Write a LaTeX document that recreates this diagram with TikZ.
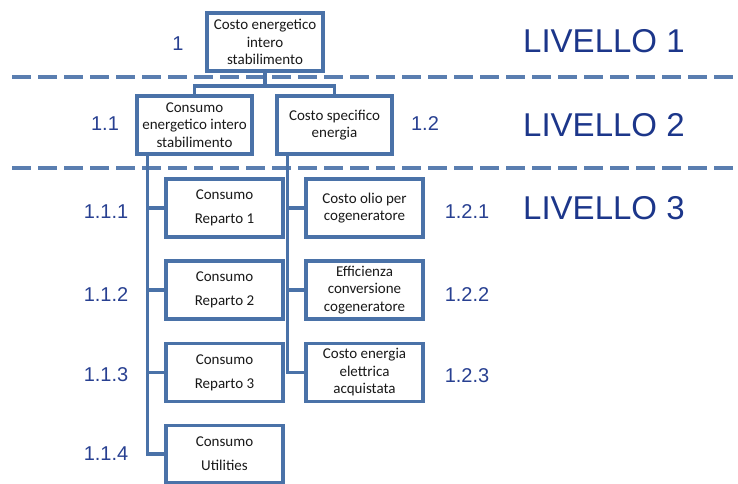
\documentclass[tikz,border=0pt]{standalone}
\usepackage{fontspec}
\setmainfont{Carlito}
\newfontfamily\arialfont{Liberation Sans}
\definecolor{boxblue}{RGB}{74,114,168}
\definecolor{dashblue}{RGB}{90,126,176}
\definecolor{navy}{RGB}{28,54,138}
\definecolor{numblue}{RGB}{40,64,145}
\definecolor{boxtext}{RGB}{25,25,25}
\tikzset{
  box/.style={draw=boxblue, line width=3.2pt, fill=white, align=center, inner sep=0pt,
    text=boxtext, font=\fontsize{15}{17.5}\selectfont},
  boxA/.style={box, minimum width=116pt, minimum height=58pt},
  boxB/.style={box, minimum width=115pt, minimum height=58pt},
  boxC/.style={box, minimum width=117pt, minimum height=58pt},
  wide/.style={font=\fontsize{15}{24}\selectfont},
  conn/.style={draw=boxblue, line width=3.2pt},
  sep/.style={draw=dashblue, line width=4pt, dash pattern=on 19pt off 7pt},
  num/.style={text=numblue, font=\arialfont\fontsize{20}{22}\selectfont, inner sep=0pt},
  lvl/.style={text=navy, font=\arialfont\fontsize{33}{36}\selectfont, inner sep=0pt, anchor=west}
}
\begin{document}
\begin{tikzpicture}[x=1pt,y=-1pt]
\useasboundingbox (0,0) rectangle (738,483);
% separators
\coordinate (s1a) at (12,77); \coordinate (s1b) at (736,77);
\coordinate (s2a) at (12,168); \coordinate (s2b) at (736,168);
\draw[sep] (s1a) -- (s1b);
\draw[sep] (s2a) -- (s2b);
% level labels
\node[lvl] (L1) at (523,41) {LIVELLO 1};
\node[lvl] (L2) at (523,125) {LIVELLO 2};
\node[lvl] (L3) at (523,208) {LIVELLO 3};
% nodes
\node[boxA] (top) at (265,42) {Costo energetico\\intero\\stabilimento};
\node[boxB] (b11) at (194.5,125) {Consumo\\energetico intero\\stabilimento};
\node[boxB] (b12) at (334.5,125) {Costo specifico\\energia};
\node[boxC, wide] (r1) at (224.5,208) {Consumo\\Reparto 1};
\node[boxC, wide] (r2) at (224.5,290) {Consumo\\Reparto 2};
\node[boxC, wide] (r3) at (224.5,372.5) {Consumo\\Reparto 3};
\node[boxC, wide, minimum height=57pt] (r4) at (224.5,454) {Consumo\\Utilities};
\node[boxC] (c1) at (364.5,208) {Costo olio per\\cogeneratore};
\node[boxC] (c2) at (364.5,290) {Efficienza\\conversione\\cogeneratore};
\node[boxC] (c3) at (364.5,372.5) {Costo energia\\elettrica\\acquistata};
% connectors
\coordinate (fork) at (265,86);
\draw[conn] (top.south) -- (fork);
\draw[conn] (fork) -| (b11.north);
\draw[conn] (fork) -| (b12.north);
\coordinate (lv) at ([xshift=12pt]b11.south west);
\coordinate (rv) at ([xshift=12pt]b12.south west);
\draw[conn] (lv) |- (r4.west);
\draw[conn] (lv) |- (r1.west);
\draw[conn] (lv) |- (r2.west);
\draw[conn] (lv) |- (r3.west);
\draw[conn] (rv) |- (c3.west);
\draw[conn] (rv) |- (c1.west);
\draw[conn] (rv) |- (c2.west);
% numbers
\node[num] (n1) at (178,44) {1};
\node[num] (n11) at (105,124) {1.1};
\node[num] (n12) at (425,124) {1.2};
\node[num] (n111) at (106,212) {1.1.1};
\node[num] (n112) at (106,295) {1.1.2};
\node[num] (n113) at (106,375) {1.1.3};
\node[num] (n114) at (106,454) {1.1.4};
\node[num] (n121) at (467,212) {1.2.1};
\node[num] (n122) at (467,295) {1.2.2};
\node[num] (n123) at (467,376) {1.2.3};
\end{tikzpicture}
\end{document}
